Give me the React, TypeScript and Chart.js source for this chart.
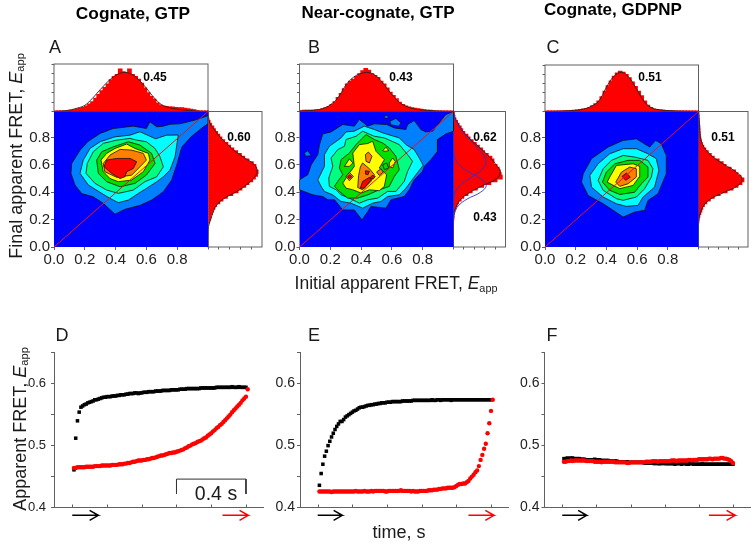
import React, { useEffect, useRef } from "react";
import { Chart, registerables } from "chart.js";

Chart.register(...registerables);

type Pt = [number, number];

const FONT = "'Liberation Sans', Arial, sans-serif";
const BINS = [.01,.03,.05,.07,.09,.11,.13,.15,.17,.19,.21,.23,.25,.27,.29,.31,.33,.35,.37,.39,.41,.43,.45,.47,.49,.51,.53,.55,.57,.59,.61,.63,.65,.67,.69,.71,.73,.75,.77,.79,.81,.83,.85,.87,.89,.91,.93,.95,.97,.99];
const FIT_X_A = [0,.05,.1,.15,.2,.25,.3,.35,.4,.45,.5,.55,.6,.65,.7,.75,.8,.85,.9,.95,1];

// Histograms of the initial FRET (top) and final FRET (right)
const A_TOP = [1.2,1.2,1.2,1.5,2,3,4,5.5,7,9,12,16,21,28,36,44,51,58,67,74,78,90,84,82,90,78,74,68,60,50,40,32,26,18,14,12,11,10,10,9,8,8,7,6,5,4,2,1.2,1.2,1.2];
const A_TOP_FIT = [0,1,3,7,13,28,46,63,76,82,79,67,49,29,14,8,5,3,1.5,.5,0];
const A_RIGHT = [0,0,0,0,0,0,0,.3,1.5,3,5,6,8,10,13,16,22,28,36,46,56,63,70,76,83,88,92,93,90,89,84,76,68,62,55,48,42,37,31,26,22,18,14,11,7,4,2,1,.3,0];
const A_RIGHT_FIT = [0,0,.3,1,5,9,15,28,51,70,84,91,86,68,50,36,23,13,4,.5,0];

const B_TOP = [2,3,3,3,3,3.5,4,6,8,11,15,21,30,38,48,58,64,68,74,80,86,91,87,80,76,72,64,58,50,41,34,27,20,15,12,10,8,7,6,5,4,3,3,2,1.5,1.2,1.2,1.2,1.2,1.2];
const B_TOP_FIT = [1,1.5,3,6,14,29,55,72,80,82,74,56,36,19,10,5,3,2,1,.3,0];
const B_RIGHT = [0,0,0,0,0,0,0,0,0,0,.5,1,1.5,3,5,7,10,15,20,28,36,46,58,72,84,94,92,90,88,84,78,78,74,67,60,56,50,44,38,32,28,22,18,15,11,8,5,3,1.5,.5];
const B_RIGHT_FIT = [0,0,0,0,0,1,6,14,32,57,83,90,82,71,58,43,29,17,9,2,0];
const B_RIGHT_LOW = [0,0,0,0,0,2,9,26,52,63,52,29,11,3,.5,0,0,0,0,0,0];
const B_RIGHT_HIGH = [0,0,0,0,0,0,0,.5,3,12,30,50,61,61,52,40,27,16,8,2,0];

const C_TOP = [1.2,1.2,1.2,1.2,1.2,1.5,2,2,2.5,3,3.5,4.5,5.5,7,9,13,17,23,32,44,56,66,76,83,87,85,80,73,64,54,44,34,23,14,9,6,4.5,3.5,3,2.5,2,2,1.5,1.2,1.2,1.2,1.2,1.2,1.2,1.2];
const C_TOP_FIT = [0,.3,.8,1.5,2.5,5,11,22,52,76,84,72,46,20,7,3.5,2,1.2,.6,.2,0];
const C_RIGHT = [0,0,0,0,0,0,0,0,0,1,1.5,3,5,7,9,12,17,24,32,44,58,70,80,88,92,86,80,75,66,56,50,42,32,26,20,15,11,8,6,5,4,3.5,3,3,2.5,2,1.5,1,.5,0];
const C_RIGHT_FIT = [0,0,0,0,.5,4,10,24,52,80,88,75,53,32,17,8,4,2.5,2,1,0];

// Contour polygons, lowest level to highest
const A_L1: Pt[] = [[.396,.24],[.46,.275],[.56,.305],[.634,.343],[.71,.404],[.764,.489],[.797,.599],[.83,.73],[.89,.805],[.97,.878],[1,.9],[1,.96],[.915,.927],[.818,.9],[.753,.897],[.71,.883],[.667,.878],[.623,.915],[.6,.866],[.515,.883],[.385,.866],[.3,.83],[.22,.77],[.17,.708],[.115,.61],[.11,.538],[.136,.453],[.18,.39],[.255,.367],[.32,.319]];
const A_L2: Pt[] = [[.418,.324],[.483,.343],[.548,.392],[.6,.428],[.667,.477],[.71,.513],[.753,.562],[.786,.66],[.807,.818],[.73,.817],[.66,.79],[.558,.842],[.493,.817],[.396,.805],[.3,.769],[.234,.72],[.19,.635],[.169,.538],[.223,.453],[.31,.392],[.364,.355]];
const A_L3: Pt[] = [[.418,.392],[.515,.416],[.59,.477],[.667,.513],[.71,.586],[.688,.66],[.656,.72],[.6,.769],[.537,.781],[.493,.793],[.407,.781],[.32,.757],[.255,.696],[.216,.61],[.208,.538],[.266,.465],[.342,.416]];
const A_L4: Pt[] = [[.43,.44],[.526,.465],[.6,.526],[.656,.61],[.634,.684],[.558,.745],[.483,.769],[.385,.732],[.31,.696],[.277,.635],[.288,.538],[.342,.477]];
const A_L5: Pt[] = [[.418,.477],[.504,.489],[.58,.55],[.623,.635],[.613,.684],[.526,.72],[.472,.752],[.396,.72],[.342,.684],[.305,.635],[.32,.55],[.364,.5]];
const A_L6: Pt[] = [[.407,.509],[.504,.525],[.558,.586],[.6,.635],[.58,.684],[.504,.708],[.429,.713],[.364,.672],[.32,.61],[.33,.55]];
const A_L7: Pt[] = [[.429,.5],[.46,.513],[.472,.55],[.515,.574],[.537,.623],[.494,.647],[.407,.647],[.342,.635],[.325,.586],[.374,.538]];

const B_L1: Pt[] = [[0,.491],[.054,.528],[.076,.601],[.119,.675],[.13,.748],[.151,.826],[.205,.841],[.281,.895],[.356,.883],[.389,.932],[.443,.883],[.486,.9],[.566,.895],[.616,.87],[.691,.858],[.702,.895],[.745,.924],[.788,.858],[.821,.841],[.864,.846],[.95,.968],[1,.99],[1,.846],[.95,.826],[.896,.785],[.896,.699],[.853,.638],[.81,.589],[.799,.553],[.745,.491],[.713,.418],[.68,.369],[.594,.345],[.562,.284],[.464,.296],[.443,.259],[.406,.198],[.356,.271],[.281,.271],[.227,.345],[.184,.345],[.151,.369],[.086,.381],[0,.418]];
const B_L1_ISLE_A: Pt[] = [[.587,.919],[.626,.939],[.659,.907],[.644,.883],[.594,.892]];
const B_L1_ISLE_B: Pt[] = [[.551,.956],[.566,.963],[.579,.944],[.557,.939]];
const B_L1_ISLE_C: Pt[] = [[.032,.687],[.054,.704],[.076,.667],[.039,.663]];
const B_L2: Pt[] = [[.119,.491],[.162,.589],[.162,.675],[.194,.736],[.27,.797],[.302,.841],[.356,.846],[.421,.883],[.486,.858],[.54,.834],[.648,.797],[.691,.748],[.745,.711],[.778,.65],[.803,.597],[.756,.528],[.691,.43],[.648,.381],[.572,.369],[.529,.333],[.475,.32],[.41,.284],[.335,.32],[.27,.333],[.216,.381],[.162,.406],[.14,.443]];
const B_L3: Pt[] = [[.19,.504],[.216,.589],[.205,.65],[.248,.711],[.292,.736],[.302,.785],[.367,.809],[.41,.846],[.486,.809],[.551,.797],[.648,.748],[.702,.675],[.734,.626],[.702,.553],[.68,.479],[.626,.406],[.572,.406],[.508,.357],[.443,.345],[.389,.32],[.324,.357],[.27,.381],[.238,.418],[.194,.443]];
const B_L4: Pt[] = [[.248,.479],[.281,.528],[.259,.577],[.27,.638],[.324,.687],[.367,.748],[.432,.822],[.486,.785],[.54,.76],[.583,.724],[.626,.663],[.648,.565],[.616,.516],[.583,.443],[.518,.418],[.443,.381],[.378,.357],[.313,.357],[.259,.406],[.227,.443]];
const B_L5: Pt[] = [[.281,.467],[.324,.54],[.356,.589],[.346,.687],[.389,.748],[.443,.756],[.475,.773],[.497,.699],[.551,.638],[.518,.577],[.566,.528],[.551,.443],[.518,.411],[.454,.418],[.4,.394],[.346,.418],[.302,.43]];
const B_L5_ISLE_A: Pt[] = [[.292,.589],[.324,.645],[.346,.614],[.324,.589]];
const B_L5_ISLE_B: Pt[] = [[.54,.704],[.562,.729],[.579,.704],[.557,.699]];
const B_L5_ISLE_C: Pt[] = [[.583,.614],[.605,.65],[.622,.626],[.605,.577],[.583,.589]];
const B_L4_HOLE: Pt[] = [[.54,.601],[.566,.614],[.579,.577],[.551,.565]];
const B_L6: Pt[] = [[.378,.435],[.384,.523],[.395,.585],[.41,.614],[.454,.572],[.486,.528],[.464,.479],[.41,.418]];
const B_L6_ISLE_A: Pt[] = [[.428,.675],[.447,.694],[.471,.663],[.454,.614],[.432,.626]];
const B_L6_ISLE_B: Pt[] = [[.302,.516],[.324,.545],[.35,.516],[.324,.484]];
const B_L6_ISLE_C: Pt[] = [[.501,.548],[.529,.572],[.544,.548],[.518,.523]];
const B_L7: Pt[] = [[.395,.43],[.41,.479],[.454,.509],[.464,.491],[.421,.43]];
const B_L7_ISLE_A: Pt[] = [[.428,.557],[.454,.553],[.445,.528],[.428,.533]];
const B_L7_ISLE_B: Pt[] = [[.471,.523],[.492,.516],[.479,.496],[.458,.504]];
const B_L7_ISLE_C: Pt[] = [[.313,.516],[.328,.528],[.339,.513],[.324,.499]];

const C_L1: Pt[] = [[.509,.219],[.584,.255],[.649,.268],[.671,.34],[.736,.389],[.79,.535],[.79,.669],[.758,.754],[.721,.779],[.682,.73],[.595,.79],[.509,.779],[.411,.73],[.303,.645],[.249,.535],[.238,.474],[.281,.377],[.379,.316],[.444,.268]];
const C_L2: Pt[] = [[.53,.297],[.606,.304],[.639,.365],[.714,.438],[.742,.56],[.725,.645],[.671,.681],[.595,.718],[.509,.718],[.422,.681],[.346,.608],[.292,.523],[.303,.438],[.379,.365],[.465,.316]];
const C_L3: Pt[] = [[.509,.341],[.595,.365],[.649,.426],[.693,.511],[.703,.572],[.671,.633],[.584,.657],[.509,.669],[.433,.633],[.379,.572],[.346,.487],[.379,.414],[.465,.353]];
const C_L4: Pt[] = [[.487,.384],[.584,.4],[.628,.462],[.671,.511],[.671,.584],[.617,.633],[.541,.633],[.455,.608],[.4,.547],[.374,.474],[.422,.414]];
const C_L5: Pt[] = [[.487,.426],[.574,.45],[.613,.511],[.617,.589],[.574,.608],[.465,.596],[.422,.511],[.405,.474]];
const C_L6: Pt[] = [[.487,.443],[.541,.462],[.595,.511],[.595,.572],[.552,.584],[.498,.547],[.461,.474]];
const C_L7: Pt[] = [[.502,.516],[.53,.54],[.556,.511],[.526,.487]];

const LEVEL_COLORS = ["#0080ff", "#00ffff", "#00ff80", "#00e000", "#ffff00", "#ff8000", "#ff0000"];

// Kinetic traces: time in s, apparent FRET values
const TIME = [.01,.02,.03,.04,.05,.06,.07,.08,.09,.1,.11,.12,.13,.14,.15,.16,.17,.18,.19,.2,.21,.22,.23,.24,.25,.26,.27,.28,.29,.3,.31,.32,.33,.34,.35,.36,.37,.38,.39,.4,.41,.42,.43,.44,.45,.46,.47,.48,.49,.5,.51,.52,.53,.54,.55,.56,.57,.58,.59,.6,.61,.62,.63,.64,.65,.66,.67,.68,.69,.7,.71,.72,.73,.74,.75,.76,.77,.78,.79,.8,.81,.82,.83,.84,.85,.86,.87,.88,.89,.9,.91,.92,.93,.94,.95,.96,.97,.98,.99,1,1.01];
const D_BLACK = [.46,.511,.539,.553,.561,.563,.565,.566,.568,.569,.57,.571,.573,.573,.574,.575,.576,.577,.577,.578,.578,.578,.579,.579,.579,.58,.58,.581,.581,.581,.582,.582,.583,.583,.583,.584,.584,.583,.584,.584,.585,.585,.585,.586,.586,.586,.586,.587,.587,.587,.587,.588,.588,.588,.588,.588,.589,.589,.589,.589,.589,.59,.59,.59,.59,.591,.591,.591,.591,.591,.591,.591,.591,.592,.592,.592,.592,.592,.592,.592,.592,.592,.593,.593,.593,.593,.593,.593,.593,.593,.593,.594,.593,.593,.593,.594,.593,.593,.593,.593];
const D_RED = [.463,.463,.464,.464,.464,.464,.464,.465,.465,.465,.465,.465,.466,.466,.466,.466,.467,.467,.467,.467,.467,.467,.468,.468,.468,.468,.469,.469,.469,.47,.47,.471,.471,.472,.473,.473,.474,.475,.475,.475,.476,.476,.477,.477,.478,.479,.479,.48,.481,.482,.483,.483,.484,.485,.486,.487,.487,.488,.488,.489,.49,.491,.492,.493,.495,.496,.498,.499,.501,.502,.503,.505,.506,.507,.509,.511,.512,.515,.517,.519,.522,.524,.527,.529,.532,.534,.537,.54,.543,.546,.549,.553,.556,.559,.562,.565,.568,.572,.575,.578,.59];
const E_BLACK = [.435,.454,.469,.482,.49,.499,.506,.513,.519,.525,.53,.534,.538,.538,.541,.545,.547,.549,.551,.553,.555,.556,.558,.56,.561,.561,.562,.563,.564,.564,.565,.565,.566,.566,.567,.567,.568,.568,.568,.569,.569,.569,.57,.57,.57,.57,.57,.57,.571,.571,.571,.571,.571,.571,.572,.572,.572,.572,.572,.572,.572,.572,.572,.572,.572,.573,.572,.572,.573,.573,.572,.573,.573,.573,.573,.573,.572,.573,.573,.573,.573,.573,.573,.573,.573,.573,.573,.573,.573,.573,.573,.573,.573,.573,.573,.573,.573,.573,.573,.573];
const E_RED = [.425,.425,.425,.425,.425,.425,.425,.424,.425,.425,.425,.425,.425,.425,.425,.425,.425,.425,.425,.425,.425,.426,.425,.425,.425,.425,.426,.425,.425,.425,.426,.425,.426,.426,.426,.426,.426,.426,.425,.425,.426,.426,.426,.426,.426,.426,.426,.427,.426,.426,.426,.426,.426,.425,.426,.425,.425,.425,.426,.426,.426,.426,.426,.427,.427,.427,.428,.428,.428,.429,.429,.43,.43,.43,.431,.431,.431,.431,.432,.434,.436,.437,.437,.438,.438,.44,.442,.446,.449,.452,.456,.459,.466,.476,.484,.494,.502,.519,.535,.555,.573];
const F_BLACK = [.478,.478,.479,.478,.479,.479,.478,.478,.478,.478,.477,.477,.477,.476,.476,.476,.476,.476,.477,.476,.476,.476,.475,.475,.475,.475,.475,.474,.474,.474,.474,.474,.473,.473,.473,.473,.473,.473,.472,.472,.472,.472,.472,.472,.472,.472,.472,.471,.471,.471,.471,.471,.471,.47,.471,.47,.47,.47,.471,.47,.47,.47,.47,.47,.47,.469,.47,.47,.47,.469,.47,.47,.469,.469,.47,.47,.469,.469,.469,.469,.469,.47,.469,.469,.469,.469,.469,.469,.469,.469,.469,.469,.469,.469,.469,.469,.469,.469,.469,.469];
const F_RED = [.473,.473,.474,.474,.475,.474,.475,.475,.475,.475,.475,.475,.475,.474,.474,.474,.474,.474,.473,.473,.473,.473,.472,.473,.473,.473,.473,.473,.473,.473,.472,.472,.472,.472,.472,.472,.472,.471,.471,.472,.472,.472,.472,.472,.472,.472,.472,.472,.473,.473,.473,.473,.474,.474,.474,.473,.474,.474,.474,.474,.474,.474,.474,.475,.475,.475,.474,.475,.475,.475,.475,.475,.475,.476,.476,.475,.476,.476,.476,.477,.477,.477,.477,.477,.477,.478,.478,.477,.478,.478,.478,.478,.479,.479,.478,.478,.477,.476,.474,.471];

const CONTOUR_X_TICKS = [0, .2, .4, .6, .8];
const CONTOUR_Y_TICKS = [0, .2, .4, .6, .8];
const HIST_TICKS = [0, 20, 40, 60, 80];
const TIME_TICKS = [0, .2, .4, .6, .8, 1];
const FRET_TICKS = [.4, .45, .5, .55, .6, .65];
const SCALE_BAR: Pt[] = [[.6, .421], [.6, .445], [1, .445], [1, .421]];
const ARROW_Y = .3865;

type Rect = [number, number, number, number];
const AXIS = "#606060";
const W = 754, H = 544;
const AX = 32;

const padding = (r: Rect) => ({ left: r[0] - AX, top: r[1], right: W - r[2], bottom: H - r[3] - AX });
const collapse = (s: any) => { if (s.isHorizontal()) s.height = AX; else s.width = AX; };
const fixed = (vals: number[]) => (s: any) => { s.ticks = vals.map((value) => ({ value })); };
const closed = (p: Pt[]) => [...p, p[0]].map(([x, y]) => ({ x, y }));
const framePlugin = { id: "frame", afterDraw(c: any) { const a = c.chartArea, g = c.ctx; g.save(); g.strokeStyle = AXIS; g.lineWidth = 1; g.strokeRect(a.left, a.top, a.width, a.height); g.restore(); } };
const bluePlugin = { id: "blueBack", beforeDraw(c: any) { const a = c.chartArea; c.ctx.save(); c.ctx.fillStyle = "#0000ff"; c.ctx.fillRect(a.left, a.top, a.width, a.height); c.ctx.restore(); } };
const innerTicks = { id: "innerTicks", afterDraw(c: any) { const s = c.scales.x, g = c.ctx, y = c.chartArea.bottom; g.save(); g.strokeStyle = AXIS; g.lineWidth = 1; TIME_TICKS.forEach((t) => { const x = Math.round(s.getPixelForValue(t)) + .5; g.beginPath(); g.moveTo(x, y); g.lineTo(x, y - 2.5); g.stroke(); }); g.restore(); } };

function ChartBox({ make }: { make: () => any }) {
  const ref = useRef<HTMLCanvasElement>(null);
  useEffect(() => {
    const chart = new Chart(ref.current!, make());
    return () => chart.destroy();
  }, []);
  return <canvas ref={ref} width={W} height={H} style={{ position: "absolute", left: 0, top: 0, width: W, height: H }} />;
}

const baseOptions = (r: Rect) => ({
  responsive: false, animation: false as const, devicePixelRatio: 1,
  layout: { padding: padding(r) },
  plugins: { legend: { display: false }, tooltip: { enabled: false }, title: { display: false } },
});
const silentAxis = (min: number, max: number, ticks: number[], tickLength: number) => ({
  type: "linear" as const, min, max, afterFit: collapse, afterBuildTicks: fixed(ticks),
  grid: { drawOnChartArea: false, drawTicks: tickLength > 0, tickLength, tickColor: AXIS },
  border: { display: false },
  ticks: { display: false, autoSkip: false },
});
const fitLine = (xs: number[], ys: number[], color: string, horizontal: boolean) => ({
  type: "line" as const, data: xs.map((p, i) => (horizontal ? { x: ys[i], y: p } : { x: p, y: ys[i] })),
  borderColor: color, borderWidth: 0.9, pointRadius: 0, tension: 0.4, fill: false, order: 0, clip: false,
});
const BAR = { backgroundColor: "#ff0000", barThickness: 4, order: 1 };

const topHist = (r: Rect, vals: number[], fit: number[]) => () => ({
  type: "bar",
  data: { labels: BINS, datasets: [
    { type: "bar", data: BINS.map((x, i) => ({ x, y: vals[i] })), ...BAR },
    fitLine(FIT_X_A, fit, "#222222", false),
  ] },
  options: { ...baseOptions(r), scales: { x: silentAxis(0, 1, [], 0), y: silentAxis(0, 100, [0, 20, 40, 60, 80, 100], 2.5) } },
  plugins: [framePlugin],
});
const rightHist = (r: Rect, vals: number[], fit: number[], extra: number[][] = []) => () => ({
  type: "bar",
  data: { labels: BINS, datasets: [
    { type: "bar", data: BINS.map((y, i) => ({ x: vals[i], y })), ...BAR },
    ...extra.map((e) => fitLine(FIT_X_A, e, "#3030d0", true)),
    fitLine(FIT_X_A, fit, "#222222", true),
  ] },
  options: { ...baseOptions(r), indexAxis: "y", scales: { x: silentAxis(0, 100, HIST_TICKS, 2.5), y: silentAxis(0, 0.99, [], 0) } },
  plugins: [framePlugin],
});
const contour = (r: Rect, levels: { poly: Pt[]; lvl: number }[]) => () => ({
  type: "scatter",
  data: { datasets: [
    ...levels.map(({ poly, lvl }, i) => ({
      data: closed(poly), showLine: true, pointRadius: 0, borderColor: "#101010", borderWidth: 0.8,
      backgroundColor: LEVEL_COLORS[lvl], fill: "shape", order: 100 - i,
    })),
    { data: [{ x: 0, y: 0 }, { x: 1, y: 0.99 }], showLine: true, pointRadius: 0, borderColor: "#f01010", borderWidth: 1, fill: false, order: 0 },
  ] },
  options: { ...baseOptions(r), scales: {
    x: { type: "linear", min: 0, max: 1, afterFit: collapse, afterBuildTicks: fixed(CONTOUR_X_TICKS), border: { display: false },
      grid: { drawOnChartArea: false, tickLength: 3, tickColor: AXIS },
      ticks: { autoSkip: false, maxRotation: 0, padding: 1, color: "#222", font: { family: FONT, size: 15 }, callback: (v: number) => v.toFixed(1) } },
    y: { type: "linear", min: 0, max: 0.99, afterFit: collapse, afterBuildTicks: fixed(CONTOUR_Y_TICKS), border: { display: false },
      grid: { drawOnChartArea: false, tickLength: 3, tickColor: AXIS },
      ticks: { autoSkip: false, padding: 1, color: "#222", font: { family: FONT, size: 15 }, callback: (v: number) => v.toFixed(1) } },
  } },
  plugins: [bluePlugin],
});
const arrow = (x0: number, x1: number, color: string) => ({
  data: [[x0, ARROW_Y], [x1, ARROW_Y], [x1 - .05, ARROW_Y + .008], [x1, ARROW_Y], [x1 - .05, ARROW_Y - .008]].map(([x, y]) => ({ x, y })),
  showLine: true, pointRadius: 0, borderColor: color, borderWidth: 1.5, clip: false, fill: false, order: 0,
});
const trace = (r: Rect, tMin: number, tMax: number, black: number[], red: number[], red0: number, red1: number, scaleBar: boolean, blackEnd: number, labelSize: number, labelGap: number) => () => ({
  type: "scatter",
  data: { datasets: [
    { data: red.map((y, i) => ({ x: TIME[i], y })), pointStyle: "circle", pointRadius: 2.2, backgroundColor: "#ff0000", borderWidth: 0, showLine: false, order: 1, clip: false },
    { data: black.map((y, i) => ({ x: TIME[i], y })), pointStyle: "rect", pointRadius: 2.5, backgroundColor: "#000000", borderWidth: 0, showLine: false, order: 2, clip: false },
    arrow(0, blackEnd, "#000000"),
    arrow(red0, red1, "#ff0000"),
    ...(scaleBar ? [{ data: SCALE_BAR.map(([x, y]) => ({ x, y })), showLine: true, pointRadius: 0, borderColor: "#303030", borderWidth: 1, fill: false, order: 0 }] : []),
  ] },
  options: { ...baseOptions(r), scales: {
    x: { type: "linear", min: tMin, max: tMax, afterFit: collapse, afterBuildTicks: fixed(TIME_TICKS), border: { display: true, color: AXIS, width: 1 },
      grid: { display: false }, ticks: { display: false, autoSkip: false } },
    y: { type: "linear", min: .4, max: .65, afterFit: collapse, afterBuildTicks: fixed(FRET_TICKS), border: { display: true, color: AXIS, width: 1 },
      grid: { drawOnChartArea: false, tickLength: 3, tickColor: AXIS },
      ticks: { autoSkip: false, padding: labelGap, color: "#222", font: { family: FONT, size: labelSize }, callback: (v: number) => (Math.round(v * 100) % 10 === 0 ? v.toFixed(1) : "") } },
  } },
  plugins: [innerTicks],
});

function T({ x, y, size, bold, rot, children }: { x: number; y: number; size: number; bold?: boolean; rot?: boolean; children: React.ReactNode }) {
  return <div style={{ position: "absolute", left: x, top: y, transform: `translate(-50%,-50%)${rot ? " rotate(-90deg)" : ""}`, fontFamily: FONT, fontSize: size, fontWeight: bold ? 700 : 400, color: bold ? "#000" : "#1a1a1a", whiteSpace: "nowrap", lineHeight: 1 }}>{children}</div>;
}
const Eapp = () => <><i>E</i><sub style={{ fontSize: "0.62em", verticalAlign: "-0.22em", lineHeight: 0 }}>app</sub></>;

const A_C: Rect = [54, 111.5, 208, 247];
const B_C: Rect = [299.5, 111.5, 453.5, 247];
const C_C: Rect = [545, 111.5, 698.5, 247];

const levelsA = [A_L1, A_L2, A_L3, A_L4, A_L5, A_L6, A_L7].map((poly, lvl) => ({ poly, lvl }));
const levelsB = [
  { poly: B_L1, lvl: 0 }, { poly: B_L1_ISLE_A, lvl: 0 }, { poly: B_L1_ISLE_B, lvl: 0 }, { poly: B_L1_ISLE_C, lvl: 0 },
  { poly: B_L2, lvl: 1 }, { poly: B_L3, lvl: 2 }, { poly: B_L4, lvl: 3 },
  { poly: B_L5, lvl: 4 }, { poly: B_L5_ISLE_A, lvl: 4 }, { poly: B_L5_ISLE_B, lvl: 4 }, { poly: B_L5_ISLE_C, lvl: 4 },
  { poly: B_L4_HOLE, lvl: 3 },
  { poly: B_L6, lvl: 5 }, { poly: B_L6_ISLE_A, lvl: 5 }, { poly: B_L6_ISLE_B, lvl: 5 }, { poly: B_L6_ISLE_C, lvl: 5 },
  { poly: B_L7, lvl: 6 }, { poly: B_L7_ISLE_A, lvl: 6 }, { poly: B_L7_ISLE_B, lvl: 6 }, { poly: B_L7_ISLE_C, lvl: 6 },
];
const levelsC = [C_L1, C_L2, C_L3, C_L4, C_L5, C_L6, C_L7].map((poly, lvl) => ({ poly, lvl }));

export default function App() {
  return (
    <div style={{ position: "absolute", left: 0, top: 0, width: W, height: H, overflow: "hidden", background: "#fff" }}>
      <ChartBox make={topHist([54, 64, 208, 111.5], A_TOP, A_TOP_FIT)} />
      <ChartBox make={rightHist([208, 111.5, 262, 247], A_RIGHT, A_RIGHT_FIT)} />
      <ChartBox make={contour(A_C, levelsA)} />
      <ChartBox make={topHist([299.5, 64, 453.5, 111.5], B_TOP, B_TOP_FIT)} />
      <ChartBox make={rightHist([453.5, 111.5, 505.5, 247], B_RIGHT, B_RIGHT_FIT, [B_RIGHT_LOW, B_RIGHT_HIGH])} />
      <ChartBox make={contour(B_C, levelsB)} />
      <ChartBox make={topHist([545, 65, 698.5, 111.5], C_TOP, C_TOP_FIT)} />
      <ChartBox make={rightHist([698.5, 111.5, 748, 247], C_RIGHT, C_RIGHT_FIT)} />
      <ChartBox make={contour(C_C, levelsC)} />
      <ChartBox make={trace([54, 352, 263, 507], -.105, 1.098, D_BLACK, D_RED, .865, 1.013, true, .15, 13, 5)} />
      <ChartBox make={trace([300, 352, 508, 507], -.102, 1.098, E_BLACK, E_RED, .87, 1.017, false, .142, 14, 2)} />
      <ChartBox make={trace([544.5, 352, 753, 507], -.104, 1.1, F_BLACK, F_RED, .86, 1.013, false, .143, 14, 2)} />

      <T x={133} y={14} size={17.3} bold>Cognate, GTP</T>
      <T x={378} y={12} size={17} bold>Near-cognate, GTP</T>
      <T x={613} y={9} size={17} bold>Cognate, GDPNP</T>

      <T x={55} y={47} size={18}>A</T>
      <T x={314} y={47} size={18}>B</T>
      <T x={553} y={47} size={18}>C</T>
      <T x={62} y={335} size={18}>D</T>
      <T x={314} y={335} size={18}>E</T>
      <T x={552} y={335} size={18}>F</T>

      <T x={155} y={77} size={12} bold>0.45</T>
      <T x={239} y={137} size={12} bold>0.60</T>
      <T x={401} y={77} size={12} bold>0.43</T>
      <T x={485} y={137} size={12} bold>0.62</T>
      <T x={485} y={217} size={12} bold>0.43</T>
      <T x={650} y={77} size={12} bold>0.51</T>
      <T x={723} y={137} size={12} bold>0.51</T>

      <T x={16} y={156} size={18} rot>Final apparent FRET, <Eapp /></T>
      <T x={396} y={284} size={17.5}>Initial apparent FRET, <Eapp /></T>
      <T x={20} y={429} size={18} rot>Apparent FRET, <Eapp /></T>
      <T x={399} y={532} size={18}>time, s</T>
      <T x={216} y={494} size={19.5}>0.4 s</T>
    </div>
  );
}
